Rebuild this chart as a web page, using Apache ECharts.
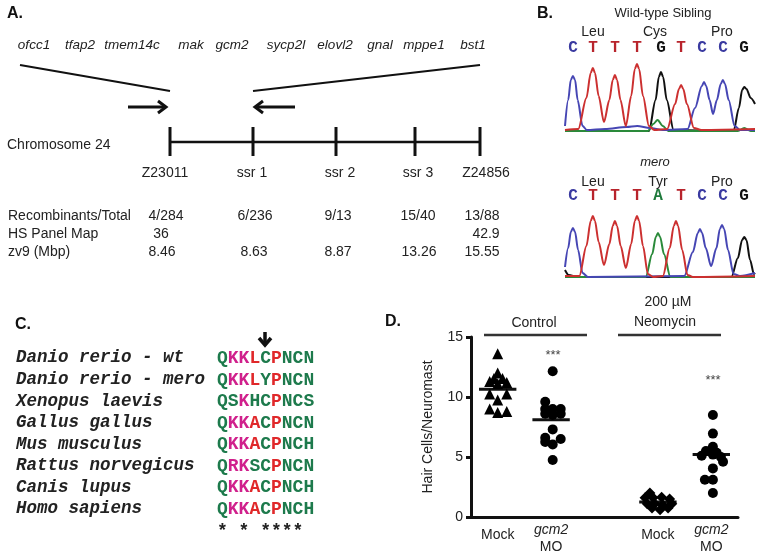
<!DOCTYPE html>
<html><head><meta charset="utf-8">
<script src="https://cdn.jsdelivr.net/npm/echarts@6/dist/echarts.min.js"></script>
<style>html,body{margin:0;padding:0;background:#fff}#c{width:760px;height:558px}</style>
</head><body><div id="c"></div>
<script>
// ---------- Panel D data ----------
const groupLabels = ['Mock', 'gcm2 MO', '', 'Mock', 'gcm2 MO'];
const ctrlMockVals   = [13.6, 12.0, 11.55, 11.55, 11.3, 11.2, 11.1, 10.25, 10.25, 9.75, 9.0, 8.7, 8.8];
const ctrlMockJitter = [0, 0, -0.07, 0.09, -0.15, 0.17, 0, -0.15, 0.17, 0, -0.15, 0, 0.17];
const ctrlMOVals     = [12.15, 9.6, 9.0, 9.0, 9.0, 8.6, 8.5, 8.6, 7.3, 6.6, 6.25, 6.05, 6.5, 4.75];
const ctrlMOJitter   = [0.03, -0.11, -0.11, 0.03, 0.18, -0.11, 0.03, 0.18, 0.03, -0.11, -0.11, 0.03, 0.18, 0.03];
const neoMockVals    = [2.0, 1.6, 1.6, 1.65, 1.5, 1.1, 1.1, 1.0, 1.1, 0.75, 0.6, 0.75];
const neoMockJitter  = [-0.15, -0.24, -0.09, 0.07, 0.22, -0.2, -0.06, 0.09, 0.26, -0.11, 0.04, 0.19];
const neoMOVals      = [8.5, 6.95, 5.85, 5.5, 5.35, 5.1, 5.0, 5.2, 4.6, 4.05, 3.1, 3.1, 2.0];
const neoMOJitter    = [0.03, 0.03, 0.03, -0.1, 0.1, -0.18, 0.18, 0.03, 0.22, 0.03, -0.12, 0.03, 0.03];
const groupMeans     = [10.65, 8.1, 1.25, 5.2];
const groupIndex     = [0, 1, 3, 4];

// ---------- Panel B chromatogram data (x: base index, y: signal) ----------
const wtBases   = 'CTTTGTCCG';
const meroBases = 'CTTTATCCG';
const wtBlue  = [[-0.37,6],[-0.22,32],[-0.1,52],[0,56],[0.1,52],[0.22,32],[0.45,6],[0.65,2],[1.5,3],[2.5,5],[3.0,6],[3.6,4],[4.2,2],[5.35,3],[5.7,24],[6.02,46],[6.12,50],[6.22,46],[6.38,32],[6.54,18],[6.72,32],[6.9,48],[7.0,52],[7.1,48],[7.27,32],[7.55,6],[7.8,2],[8.5,2]];
const wtRed   = [[-0.37,2],[0.25,3],[0.63,34],[0.83,59],[0.93,64],[1.03,59],[1.2,36],[1.45,10],[1.7,32],[1.86,52],[1.96,57],[2.06,52],[2.22,32],[2.47,6],[2.72,36],[2.89,63],[2.99,68],[3.09,63],[3.27,36],[3.55,6],[3.8,2],[4.4,3],[4.77,28],[4.95,43],[5.05,47],[5.15,43],[5.32,28],[5.65,4],[6.0,2],[8.5,3]];
const wtBlack = [[-0.37,1],[3.55,1],[3.86,32],[4.01,55],[4.11,60],[4.21,55],[4.38,32],[4.7,2],[7.5,1],[7.75,24],[7.9,42],[8.0,45],[8.1,43],[8.3,34],[8.5,28]];
const wtGreen = [[-0.37,1],[3.5,1],[3.75,8],[3.95,12],[4.2,6],[4.45,1],[7.7,1],[8.0,4],[8.3,1],[8.5,1]];
const meroBlue  = [[-0.37,11],[-0.22,30],[-0.1,46],[0,50],[0.1,46],[0.24,28],[0.45,5],[0.7,1],[5.2,2],[5.6,26],[5.83,45],[5.93,49],[6.03,45],[6.2,30],[6.45,12],[6.7,30],[6.86,49],[6.96,53],[7.06,49],[7.24,28],[7.5,4],[7.8,2],[8.5,5]];
const meroRed   = [[-0.37,2],[0.3,2],[0.63,32],[0.83,57],[0.93,62],[1.03,57],[1.2,36],[1.45,13],[1.7,34],[1.86,52],[1.96,57],[2.06,52],[2.23,32],[2.47,10],[2.72,34],[2.89,57],[2.99,62],[3.09,57],[3.27,32],[3.5,4],[3.75,1],[4.2,2],[4.52,30],[4.71,52],[4.81,57],[4.91,52],[5.1,28],[5.35,3],[5.6,1],[8.5,2]];
const meroGreen = [[-0.37,1],[3.4,1],[3.7,24],[3.87,41],[3.97,45],[4.07,41],[4.25,24],[4.55,1],[8.5,1]];
const meroBlack = [[-0.37,8],[-0.2,3],[0.2,1],[7.4,1],[7.7,20],[7.9,38],[8.0,41],[8.1,38],[8.27,18],[8.45,4],[8.5,5]];

// ---------- Panel A data ----------
const genes = ['ofcc1','tfap2','tmem14c','mak','gcm2','sycp2l','elovl2','gnal','mppe1','bst1'];
const markers = ['Z23011','ssr 1','ssr 2','ssr 3','Z24856'];
const recombinants = ['4/284','6/236','9/13','15/40','13/88'];
const hsPanel = ['36','','','','42.9'];
const zv9 = ['8.46','8.63','8.87','13.26','15.55'];

// ---------- Panel C data ----------
const species = ['Danio rerio - wt','Danio rerio - mero','Xenopus laevis','Gallus gallus','Mus musculus','Rattus norvegicus','Canis lupus','Homo sapiens'];
const seqs = ['QKKLCPNCN','QKKLYPNCN','QSKHCPNCS','QKKACPNCN','QKKACPNCH','QRKSCPNCN','QKKACPNCH','QKKACPNCH'];
const seqColors = ['gmmrgrggg','gmmrgrggg','ggmggrggg','gmmrgrggg','gmmrgrggg','gmmggrggg','gmmrgrggg','gmmrgrggg'];
const conservation = '* * ****';

// ---------- layout helpers ----------
const SANS = '"Liberation Sans", Arial, sans-serif';
const MONO = '"Liberation Mono", "Courier New", monospace';
function T(x, y, text, o) {
  return {type:'text', x:x, y:y, silent:true,
    style:Object.assign({text:text, fill:'#222', font:'14px ' + SANS, align:'left', verticalAlign:'middle'}, o || {})};
}
function L(x1, y1, x2, y2, w, c) {
  return {type:'line', silent:true, shape:{x1:x1,y1:y1,x2:x2,y2:y2}, style:{stroke:c||'#111', lineWidth:w||2}};
}
function PL(points, w, c) {
  return {type:'polyline', silent:true, shape:{points:points}, style:{stroke:c||'#111', lineWidth:w||3, fill:null}};
}
const g = [];
// Panel A
g.push(T(7, 14, 'A.', {font:'bold 16px ' + SANS, fill:'#111'}));
const geneX = [34, 80, 132, 191, 232, 286, 335, 380, 424, 473];
genes.forEach((s, i) => g.push(T(geneX[i], 45, s, {align:'center', font:'italic 13.5px ' + SANS})));
g.push(L(20, 65, 170, 91, 2));
g.push(L(253, 91, 480, 65, 2));
g.push(L(128, 107, 166, 107, 3));
g.push(PL([[158,101],[166,107],[158,113]], 3));
g.push(L(256, 107, 295, 107, 3));
g.push(PL([[263,101],[255,107],[263,113]], 3));
g.push(T(7, 145, 'Chromosome 24'));
g.push(L(170, 142, 480, 142, 2.5));
const tickX = [170, 253, 336, 415, 480];
tickX.forEach(x => g.push(L(x, 127, x, 156, 3)));
const markerX = [165, 252, 340, 418, 486];
markers.forEach((s, i) => g.push(T(markerX[i], 173, s, {align:'center'})));
g.push(T(8, 216, 'Recombinants/Total'));
g.push(T(8, 234, 'HS Panel Map'));
g.push(T(8, 252, 'zv9 (Mbp)'));
const recX = [166, 255, 338, 418, 482];
recombinants.forEach((s, i) => g.push(T(recX[i], 216, s, {align:'center'})));
const hsX = [161, 0, 0, 0, 486];
hsPanel.forEach((s, i) => { if (s) g.push(T(hsX[i], 234, s, {align:'center'})); });
const zvX = [162, 254, 338, 419, 482];
zv9.forEach((s, i) => g.push(T(zvX[i], 252, s, {align:'center'})));

// Panel B
const baseColor = {C:'#3a3aa0', T:'#b8242c', G:'#111', A:'#1f7a3c'};
const baseX = [573, 593, 615, 637, 661, 681, 702, 723, 744];
g.push(T(537, 14, 'B.', {font:'bold 16px ' + SANS, fill:'#111'}));
g.push(T(663, 13, 'Wild-type Sibling', {align:'center', font:'13px ' + SANS}));
g.push(T(593, 32, 'Leu', {align:'center'}));
g.push(T(655, 32, 'Cys', {align:'center'}));
g.push(T(722, 32, 'Pro', {align:'center'}));
wtBases.split('').forEach((b, i) => g.push(T(baseX[i], 48, b, {align:'center', font:'bold 16px ' + MONO, fill:baseColor[b]})));
g.push(T(655, 162, 'mero', {align:'center', font:'italic 13px ' + SANS}));
g.push(T(593, 182, 'Leu', {align:'center'}));
g.push(T(658, 182, 'Tyr', {align:'center'}));
g.push(T(722, 182, 'Pro', {align:'center'}));
meroBases.split('').forEach((b, i) => g.push(T(i === 4 ? 658 : baseX[i], 196, b, {align:'center', font:'bold 16px ' + MONO, fill:baseColor[b]})));

// Panel C
g.push(T(15, 325, 'C.', {font:'bold 16px ' + SANS, fill:'#111'}));
g.push(L(265, 332, 265, 344, 3.5));
g.push(PL([[259,338],[265,345],[271,338]], 3.5));
const rowY = [358, 380, 401.5, 423, 444.5, 466, 487.5, 509];
const seqCol = {g:'#1d7a4c', m:'#d0208c', r:'#e0282a'};
species.forEach((s, i) => g.push(T(16, rowY[i], s, {font:'bold italic 17.5px ' + MONO, fill:'#222'})));
seqs.forEach((s, i) => {
  const txt = s.split('').map((ch, k) => '{' + seqColors[i][k] + '|' + ch + '}').join('');
  const rich = {};
  Object.keys(seqCol).forEach(k => rich[k] = {fill:seqCol[k], font:'bold 18px ' + MONO});
  g.push({type:'text', x:217, y:rowY[i], silent:true, style:{text:txt, rich:rich, align:'left', verticalAlign:'middle', font:'bold 18px ' + MONO}});
});
g.push(T(217, 531, conservation, {font:'bold 18px ' + MONO, fill:'#222'}));

// Panel D extras
g.push(T(385, 322, 'D.', {font:'bold 16px ' + SANS, fill:'#111'}));
g.push(T(534, 323, 'Control', {align:'center'}));
g.push(T(668, 302, '200 µM', {align:'center'}));
g.push(T(665, 322, 'Neomycin', {align:'center'}));
g.push(L(484, 335, 587, 335, 2.5, '#333'));
g.push(L(618, 335, 721, 335, 2.5, '#333'));
g.push(T(553, 355, '***', {align:'center', font:'13px ' + SANS, fill:'#444'}));
g.push(T(713, 380, '***', {align:'center', font:'13px ' + SANS, fill:'#444'}));

// ---------- chart ----------
function pts(vals, jit, gi) { return vals.map((v, i) => [groupIndex[gi] + jit[i], v]); }
function trace(data, color, xi, yi) {
  return {type:'line', xAxisIndex:xi, yAxisIndex:yi, data:data, smooth:0.3, smoothMonotone:'x',
    symbol:'none', silent:true, lineStyle:{color:color, width:2}, z:3};
}
const meanSeries = groupMeans.map((m, i) => ({
  type:'line', xAxisIndex:1, yAxisIndex:0, symbol:'none', silent:true,
  data:[[groupIndex[i] - 0.35, m], [groupIndex[i] + 0.35, m]],
  lineStyle:{color:'#111', width:3}, z:4
}));
const scatterBase = {type:'scatter', xAxisIndex:1, yAxisIndex:0, itemStyle:{color:'#000', opacity:1}, silent:true, z:5};

const chart = echarts.init(document.getElementById('c'), null, {renderer:'canvas'});
chart.setOption({
  animation:false,
  backgroundColor:'#fff',
  grid:[
    {left:471, right:22, top:337, bottom:41},
    {left:565, top:60, width:190, height:72},
    {left:565, top:206, width:190, height:72}
  ],
  xAxis:[
    {gridIndex:0, type:'category', data:groupLabels,
      axisLine:{lineStyle:{color:'#111', width:3}}, axisTick:{show:false},
      axisLabel:{interval:0, margin:5, color:'#222', fontFamily:'Liberation Sans', fontSize:14,
        formatter: v => v === 'gcm2 MO' ? '{i|gcm2}\n{n|MO}' : '{m|' + v + '}',
        rich:{i:{fontStyle:'italic', fontSize:14, lineHeight:17, color:'#222', fontFamily:'Liberation Sans'},
              n:{fontSize:14, lineHeight:17, color:'#222', fontFamily:'Liberation Sans'},
              m:{fontSize:14, lineHeight:17, color:'#222', fontFamily:'Liberation Sans', padding:[9,0,0,0]}}}},
    {gridIndex:0, type:'value', min:-0.5, max:4.5, show:false},
    {gridIndex:1, type:'value', min:-0.37, max:8.5, show:false},
    {gridIndex:2, type:'value', min:-0.37, max:8.5, show:false}
  ],
  yAxis:[
    {gridIndex:0, type:'value', min:0, max:15, interval:5,
      axisLine:{show:true, onZero:false, lineStyle:{color:'#111', width:3}},
      axisTick:{show:true, length:5, lineStyle:{color:'#111', width:3}},
      axisLabel:{fontSize:14, color:'#222', margin:8, fontFamily:'Liberation Sans'},
      splitLine:{show:false},
      name:'Hair Cells/Neuromast', nameLocation:'middle', nameGap:36,
      nameTextStyle:{fontSize:14, color:'#222', fontFamily:'Liberation Sans'}},
    {gridIndex:1, type:'value', min:0, max:72, show:false},
    {gridIndex:2, type:'value', min:0, max:72, show:false}
  ],
  series:[
    Object.assign({}, scatterBase, {symbol:'triangle', symbolSize:11, data:pts(ctrlMockVals, ctrlMockJitter, 0)}),
    Object.assign({}, scatterBase, {symbol:'circle', symbolSize:10, data:pts(ctrlMOVals, ctrlMOJitter, 1)}),
    Object.assign({}, scatterBase, {symbol:'diamond', symbolSize:11, data:pts(neoMockVals, neoMockJitter, 2)}),
    Object.assign({}, scatterBase, {symbol:'circle', symbolSize:10, data:pts(neoMOVals, neoMOJitter, 3)})
  ].concat(meanSeries, [
    trace(wtBlack, '#111', 2, 1), trace(wtGreen, '#2a8a3a', 2, 1), trace(wtBlue, '#4646b4', 2, 1), trace(wtRed, '#cc3030', 2, 1),
    trace(meroBlack, '#111', 3, 2), trace(meroGreen, '#2a8a3a', 3, 2), trace(meroBlue, '#4646b4', 3, 2), trace(meroRed, '#cc3030', 3, 2)
  ]),
  graphic:g
});
</script></body></html>
